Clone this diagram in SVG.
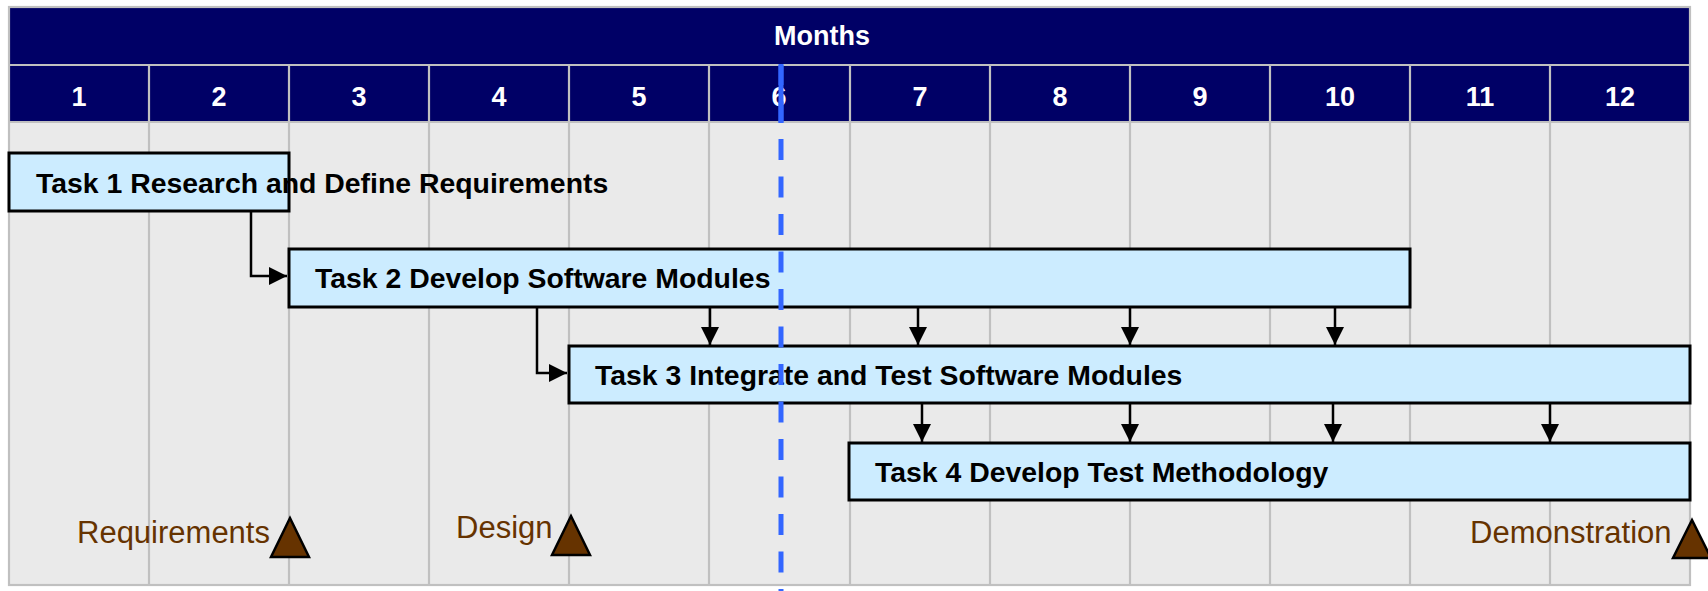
<svg xmlns="http://www.w3.org/2000/svg" width="1708" height="591" viewBox="0 0 1708 591">
  <style>
    .grid { stroke: #C0C0C0; stroke-width: 2.2; fill: none; }
    .hdr { font-family: "Liberation Sans", Arial, sans-serif; font-weight: bold; fill: #FFFFFF; text-anchor: middle; }
    .task rect { fill: #CCECFF; stroke: #000000; stroke-width: 3; }
    .task text { font-family: "Liberation Sans", Arial, sans-serif; font-weight: bold; font-size: 28.4px; fill: #000000; }
    .conn { stroke: #000000; stroke-width: 2.5; fill: none; }
    .ms polygon { fill: #663300; stroke: #000000; stroke-width: 2.5; stroke-linejoin: miter; }
    .ms text { font-family: "Liberation Sans", Arial, sans-serif; font-size: 31px; fill: #663300; }
  </style>
  <defs>
    <marker id="arr" viewBox="0 0 18 18" refX="18" refY="9" markerWidth="18" markerHeight="18" markerUnits="userSpaceOnUse" orient="auto">
      <path d="M0,0 L18,9 L0,18 Z" fill="#000000"/>
    </marker>
  </defs>
  <rect x="0" y="0" width="1708" height="591" fill="#FFFFFF"/>
  <g id="grid">
    <rect x="9" y="7" width="1681" height="578" fill="#EAEAEA"/>
    <rect x="9" y="7" width="1681" height="58" fill="#000066"/>
    <rect x="9" y="65" width="1681" height="57" fill="#000066"/>
    <path class="grid" d="M149,65V585 M289,65V585 M429,65V585 M569,65V585 M709,65V585 M850,65V585 M990,65V585 M1130,65V585 M1270,65V585 M1410,65V585 M1550,65V585"/>
    <path class="grid" d="M9,65H1690 M9,122H1690"/>
    <rect class="grid" x="9" y="7" width="1681" height="578"/>
    <text class="hdr" x="822" y="45" font-size="27">Months</text>
    <g class="hdr" font-size="27">
      <text x="79" y="106">1</text>
      <text x="219" y="106">2</text>
      <text x="359" y="106">3</text>
      <text x="499" y="106">4</text>
      <text x="639" y="106">5</text>
      <text x="779" y="106">6</text>
      <text x="920" y="106">7</text>
      <text x="1060" y="106">8</text>
      <text x="1200" y="106">9</text>
      <text x="1340" y="106">10</text>
      <text x="1480" y="106">11</text>
      <text x="1620" y="106">12</text>
    </g>
  </g>
  <g id="task1" class="task">
    <rect x="9" y="153" width="280" height="58"/>
    <text x="36" y="193">Task 1 Research and Define Requirements</text>
  </g>
  <g id="task2" class="task">
    <rect x="289" y="249" width="1121" height="58"/>
    <text x="315" y="288">Task 2 Develop Software Modules</text>
  </g>
  <g id="task3" class="task">
    <rect x="569" y="346" width="1121" height="57"/>
    <text x="595" y="385">Task 3 Integrate and Test Software Modules</text>
  </g>
  <g id="task4" class="task">
    <rect x="849" y="443" width="841" height="57"/>
    <text x="875" y="482">Task 4 Develop Test Methodology</text>
  </g>
  <g id="connectors" class="conn">
    <path d="M251,212V276H287" marker-end="url(#arr)"/>
    <path d="M537,308V373H567" marker-end="url(#arr)"/>
    <path d="M710,308V345" marker-end="url(#arr)"/>
    <path d="M918,308V345" marker-end="url(#arr)"/>
    <path d="M1130,308V345" marker-end="url(#arr)"/>
    <path d="M1335,308V345" marker-end="url(#arr)"/>
    <path d="M922,404V442" marker-end="url(#arr)"/>
    <path d="M1130,404V442" marker-end="url(#arr)"/>
    <path d="M1333,404V442" marker-end="url(#arr)"/>
    <path d="M1550,404V442" marker-end="url(#arr)"/>
  </g>
  <g id="ms-requirements" class="ms">
    <text x="77" y="543">Requirements</text>
    <polygon points="290,518 271,557 309,557"/>
  </g>
  <g id="ms-design" class="ms">
    <text x="456" y="538">Design</text>
    <polygon points="571,516 552,555 590,555"/>
  </g>
  <g id="ms-demonstration" class="ms">
    <text x="1470" y="543">Demonstration</text>
    <polygon points="1692,520 1673,558 1711,558"/>
  </g>
  <g id="today-line">
    <line x1="781" y1="65" x2="781" y2="123" stroke="#3366FF" stroke-width="5"/>
    <line x1="781" y1="64" x2="781" y2="591" stroke="#3366FF" stroke-width="5" stroke-dasharray="21 16.5"/>
  </g>
</svg>
